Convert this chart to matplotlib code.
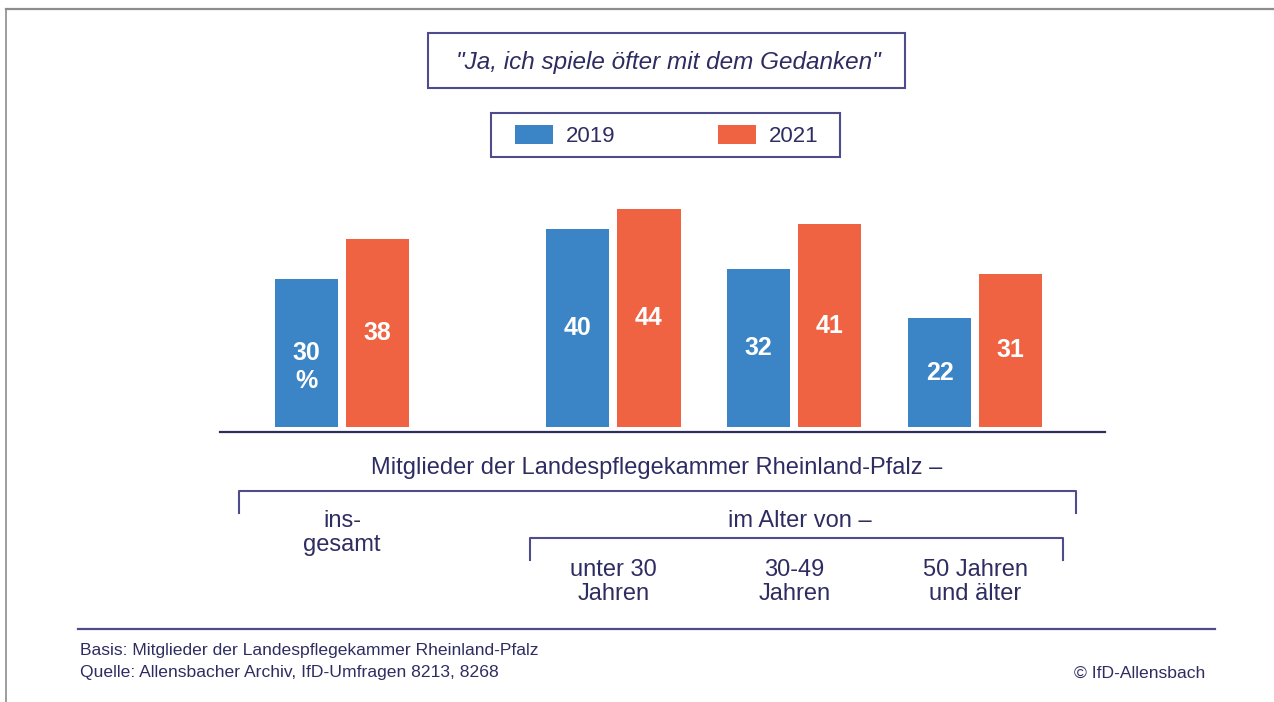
import matplotlib
matplotlib.use("Agg")
import matplotlib.pyplot as plt
from matplotlib.patches import Rectangle
from matplotlib.lines import Line2D
from matplotlib.transforms import blended_transform_factory

# data
years = ["2019", "2021"]
group_labels = ["ins-\ngesamt", "unter 30\nJahren", "30-49\nJahren", "50 Jahren\nund älter"]
values_2019 = [30, 40, 32, 22]
values_2021 = [38, 44, 41, 31]

title = "\"Ja, ich spiele öfter mit dem Gedanken\""
base_label = "Mitglieder der Landespflegekammer Rheinland-Pfalz –"
age_label = "im Alter von –"
footer_1 = "Basis: Mitglieder der Landespflegekammer Rheinland-Pfalz"
footer_2 = "Quelle: Allensbacher Archiv, IfD-Umfragen 8213, 8268"
copyright_label = "© IfD-Allensbach"

blue = "#3B85C6"
orange = "#EF6342"
navy = "#2E2D62"
frame = "#4E4C8C"

W, H = 1274, 702
plt.rcParams['font.family'] = ['Liberation Sans', 'DejaVu Sans']

fig = plt.figure(figsize=(W / 100, H / 100), dpi=100)


def fx(x):
    return x / W


def fy(y):
    return 1 - y / H


# bar axes: pixel box 220..1105 horizontally, 180..432 vertically
ax = fig.add_axes([fx(220), fy(432), (1105 - 220) / W, (432 - 180) / H])
positions = [0, 1.5, 2.5, 3.5]
width = 0.349
off = 0.197
b1 = ax.bar([p - off for p in positions], values_2019, width, color=blue, label=years[0])
b2 = ax.bar([p + off for p in positions], values_2021, width, color=orange, label=years[1])
ax.set_xlim(-0.6744, 4.2178)
ax.set_ylim(-1.01, 49.9)
for s in ["top", "right", "left"]:
    ax.spines[s].set_visible(False)
ax.spines["bottom"].set_color(navy)
ax.spines["bottom"].set_linewidth(1.6)
ax.set_xticks([])
ax.set_yticks([])
ax.patch.set_alpha(0)

for bars in (b1, b2):
    for i, r in enumerate(bars):
        v = r.get_height()
        cx = r.get_x() + r.get_width() / 2
        ax.text(cx, v / 2, "%d" % v, ha="center", va="center", color="white",
                fontsize=18, fontweight="bold")
        if bars is b1 and i == 0:
            ax.annotate("%", (cx, v / 2), xytext=(0, -20), textcoords="offset points",
                        ha="center", va="center", color="white", fontsize=18,
                        fontweight="bold")

# outer frame lines (top and left, gray)
fig.add_artist(Line2D([fx(6), fx(W)], [fy(9), fy(9)], color="#8C8C8C", lw=1.6))
fig.add_artist(Line2D([fx(6), fx(6)], [fy(9), fy(H)], color="#8C8C8C", lw=1.2))

# title box
fig.add_artist(Rectangle((fx(428), fy(88)), (905 - 428) / W, (88 - 33) / H,
                         transform=fig.transFigure, fill=False, edgecolor=frame, lw=1.5))
fig.text(fx(668), fy(62), title, ha="center", va="center", color=navy,
         fontsize=17.5, style="italic")

# legend box with manual frame
fig.add_artist(Rectangle((fx(491), fy(157)), (840 - 491) / W, (157 - 113) / H,
                         transform=fig.transFigure, fill=False, edgecolor=frame, lw=1.5))
leg = fig.legend(handles=[b1, b2], labels=years, loc="center",
                 bbox_to_anchor=(fx(667), fy(136)), ncol=2, frameon=False,
                 fontsize=16, handlelength=1.7, handleheight=0.95,
                 handletextpad=0.6, columnspacing=4.6)
for t in leg.get_texts():
    t.set_color(navy)

# category labels below the chart
fig.text(fx(657), fy(468), base_label, ha="center", va="center", color=navy, fontsize=17)
br = dict(color=frame, lw=1.5)
fig.add_artist(Line2D([fx(239), fx(239), fx(1076), fx(1076)],
                      [fy(513), fy(491), fy(491), fy(513)], **br))
fig.text(fx(800), fy(521), age_label, ha="center", va="center", color=navy, fontsize=17)
fig.add_artist(Line2D([fx(530), fx(530), fx(1063), fx(1063)],
                      [fy(560), fy(538), fy(538), fy(560)], **br))

tr = blended_transform_factory(ax.transData, fig.transFigure)
for i, (p, lab) in enumerate(zip(positions, group_labels)):
    y0 = 521 if i == 0 else 570
    for j, line in enumerate(lab.split("\n")):
        ax.text(p, fy(y0 + 24 * j), line, transform=tr, ha="center", va="center",
                color=navy, fontsize=17, clip_on=False)

# footer
fig.add_artist(Line2D([fx(78), fx(1215)], [fy(629), fy(629)], color=frame, lw=1.6))
fig.text(fx(80), fy(650), footer_1, ha="left", va="center", color=navy, fontsize=12.6)
fig.text(fx(80), fy(673), footer_2, ha="left", va="center", color=navy, fontsize=12.6)
fig.text(fx(1205), fy(673), copyright_label, ha="right", va="center", color=navy, fontsize=12.6)

fig.savefig("out.png", dpi=100)
